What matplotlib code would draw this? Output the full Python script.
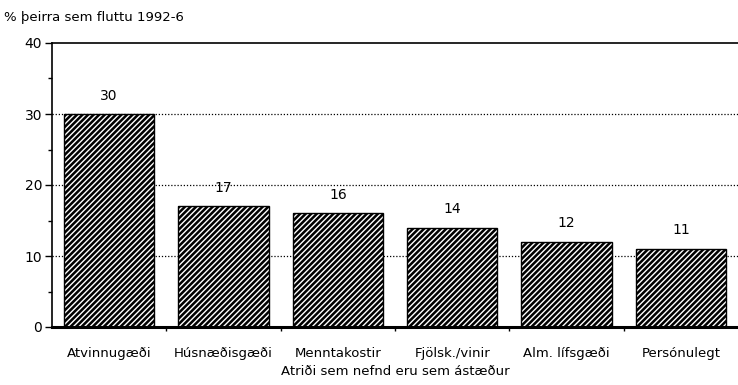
import matplotlib
matplotlib.use("Agg")
import matplotlib.pyplot as plt
from matplotlib.ticker import MultipleLocator

categories = ["Atvinnugæði", "Húsnæðisgæði", "Menntakostir", "Fjölsk./vinir", "Alm. lífsgæði", "Persónulegt"]
values = [30, 17, 16, 14, 12, 11]
y_ticks = [0, 10, 20, 30, 40]

W, H = 738, 385
fig = plt.figure(figsize=(W / 100, H / 100), dpi=100)
ax = fig.add_axes([52 / W, (H - 327) / H, 686 / W, (327 - 43) / H])

plt.rcParams["hatch.linewidth"] = 1.0
x = range(len(categories))
# hatched fill (white stripes on black), then a black outline on top
ax.bar(x, values, width=0.79, color="black", edgecolor="white", hatch="//////", linewidth=0, zorder=2)
ax.bar(x, values, width=0.79, fill=False, edgecolor="black", linewidth=1, zorder=3)

for xi, v in zip(x, values):
    ax.text(xi, v + 2.6, str(v), ha="center", va="center", fontsize=10)

ax.set_xlim(-0.5, len(categories) - 0.5)
ax.set_ylim(0, 40)
ax.set_yticks(y_ticks)
ax.yaxis.set_minor_locator(MultipleLocator(5))
ax.tick_params(axis="y", which="major", direction="out", length=5, width=1, labelsize=10, pad=2)
ax.tick_params(axis="y", which="minor", direction="out", length=3, width=1)

# x ticks sit at the category boundaries, labels at the bar centres
ax.set_xticks([i + 0.5 for i in range(len(categories) - 1)])
ax.set_xticklabels([])
ax.tick_params(axis="x", which="major", direction="out", length=3, width=1)
for xi, c in zip(x, categories):
    ax.text(xi, -3.8, c, ha="center", va="center", fontsize=9.5, clip_on=False)
ax.text(2.5, -6.2, "Atriði sem nefnd eru sem ástæður", ha="center", va="center", fontsize=9.5, clip_on=False)

for g in [10, 20, 30]:
    ax.axhline(g, color="black", linestyle=(0, (1, 1.5)), linewidth=0.9, zorder=1)

ax.spines["right"].set_visible(False)
ax.spines["top"].set_linewidth(1.2)
ax.spines["left"].set_linewidth(1.2)
ax.spines["bottom"].set_linewidth(2.2)

fig.text(4 / W, 1 - 18 / H, "% þeirra sem fluttu 1992-6", ha="left", va="center", fontsize=9.5)

fig.savefig("out.png", dpi=100)
